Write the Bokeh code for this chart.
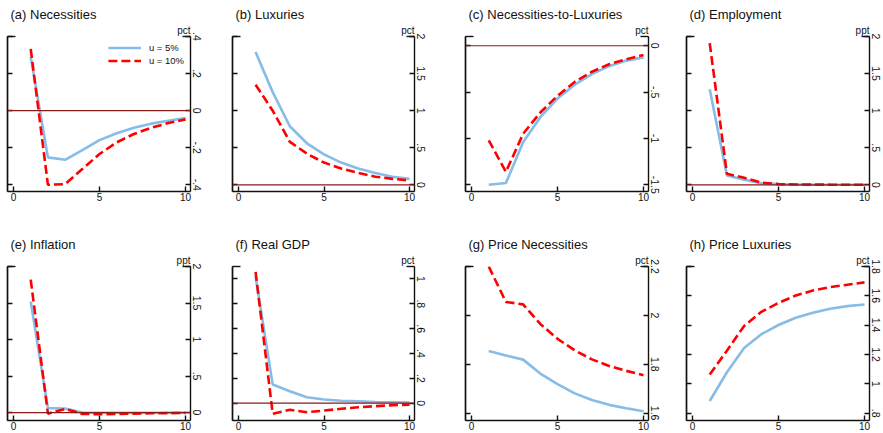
import math
from bokeh.plotting import figure
from bokeh.models import LinearAxis, FixedTicker, Range1d, Span, Legend, LegendItem, Title
from bokeh.layouts import column, row
from bokeh.embed import file_html
from bokeh.resources import INLINE

# ---------------- data ----------------
periods = [1, 2, 3, 4, 5, 6, 7, 8, 9, 10]
series_names = ["u = 5%", "u = 10%"]

titles = ["(a) Necessities", "(b) Luxuries", "(c) Necessities-to-Luxuries", "(d) Employment",
          "(e) Inflation", "(f) Real GDP", "(g) Price Necessities", "(h) Price Luxuries"]
units = ["pct", "pct", "pct", "ppt", "ppt", "pct", "pct", "pct"]

nec_u5 = [0.29, -0.252, -0.265, -0.213, -0.159, -0.122, -0.092, -0.070, -0.054, -0.040]
nec_u10 = [0.333, -0.40, -0.396, -0.315, -0.234, -0.171, -0.126, -0.092, -0.067, -0.047]

lux_u5 = [1.79, 1.25, 0.79, 0.56, 0.41, 0.30, 0.22, 0.16, 0.11, 0.08]
lux_u10 = [1.35, 1.00, 0.58, 0.42, 0.30, 0.22, 0.16, 0.11, 0.08, 0.06]

ntl_u5 = [-1.50, -1.48, -1.04, -0.77, -0.57, -0.42, -0.305, -0.22, -0.16, -0.125]
ntl_u10 = [-1.02, -1.36, -0.95, -0.72, -0.54, -0.39, -0.28, -0.20, -0.145, -0.10]

emp_u5 = [1.29, 0.126, 0.07, 0.02, 0.01, 0.005, 0.003, 0.002, 0.001, 0.001]
emp_u10 = [1.91, 0.148, 0.095, 0.03, 0.01, 0.005, 0.003, 0.002, 0.001, 0.001]

inf_u5 = [1.52, 0.063, 0.054, 0.0, -0.002, -0.003, -0.003, -0.002, -0.002, -0.001]
inf_u10 = [1.82, -0.015, 0.05, -0.02, -0.022, -0.02, -0.015, -0.01, -0.008, -0.005]

gdp_u5 = [1.02, 0.15, 0.096, 0.048, 0.03, 0.02, 0.015, 0.01, 0.008, 0.005]
gdp_u10 = [1.056, -0.085, -0.053, -0.072, -0.059, -0.045, -0.032, -0.024, -0.016, -0.011]

pnec_u5 = [1.854, 1.836, 1.819, 1.762, 1.719, 1.681, 1.654, 1.634, 1.620, 1.608]
pnec_u10 = [2.20, 2.055, 2.045, 1.965, 1.904, 1.857, 1.820, 1.793, 1.773, 1.755]

plux_u5 = [0.883, 1.079, 1.244, 1.338, 1.401, 1.451, 1.485, 1.512, 1.530, 1.541]
plux_u10 = [1.064, 1.226, 1.395, 1.491, 1.552, 1.602, 1.636, 1.660, 1.676, 1.692]

x_ticks = [0, 5, 10]
x_tick_labels = ["0", "5", "10"]

ticks_a = [-0.4, -0.2, 0, 0.2, 0.4]
labels_a = ["-.4", "-.2", "0", ".2", ".4"]
ticks_b = [0, 0.5, 1, 1.5, 2]
labels_b = ["0", ".5", "1", "1.5", "2"]
ticks_c = [-1.5, -1, -0.5, 0]
labels_c = ["-1.5", "-1", "-.5", "0"]
ticks_d = [0, 0.5, 1, 1.5, 2]
labels_d = ["0", ".5", "1", "1.5", "2"]
ticks_e = [0, 0.5, 1, 1.5, 2]
labels_e = ["0", ".5", "1", "1.5", "2"]
ticks_f = [0, 0.2, 0.4, 0.6, 0.8, 1]
labels_f = ["0", ".2", ".4", ".6", ".8", "1"]
ticks_g = [1.6, 1.8, 2, 2.2]
labels_g = ["1.6", "1.8", "2", "2.2"]
ticks_h = [0.8, 1, 1.2, 1.4, 1.6, 1.8]
labels_h = [".8", "1", "1.2", "1.4", "1.6", "1.8"]

series = [(nec_u5, nec_u10), (lux_u5, lux_u10), (ntl_u5, ntl_u10), (emp_u5, emp_u10),
          (inf_u5, inf_u10), (gdp_u5, gdp_u10), (pnec_u5, pnec_u10), (plux_u5, plux_u10)]
ticks = [ticks_a, ticks_b, ticks_c, ticks_d, ticks_e, ticks_f, ticks_g, ticks_h]
tick_labels = [labels_a, labels_b, labels_c, labels_d, labels_e, labels_f, labels_g, labels_h]

# ---------------- layout / style ----------------
y_ranges = [(-0.436, 0.4), (-0.09, 2.0), (-1.572, 0.1), (-0.09, 2.0),
            (-0.109, 2.0), (-0.139, 1.1), (1.57, 2.2), (0.75, 1.8)]
x_range = (-0.35, 10.29)
widths = [226, 233, 221, 203]
left_borders = [7, 6, 6, 6]
frame_widths = [183, 182, 183, 183]
row_heights = [215, 218]
top_borders = [36, 51]
frame_heights = [155, 154]

FONT = "Liberation Sans"
TXT = "#111111"
BLUE = "#86BCE8"
RED = "#FF0000"
MAROON = "#8B1A1A"
AXIS = "#111111"


def style_axis_line(ax):
    ax.axis_line_color = AXIS
    ax.axis_line_width = 1.4
    ax.major_tick_line_color = AXIS
    ax.major_tick_line_width = 1.4
    ax.minor_tick_line_color = AXIS
    ax.minor_tick_line_width = 1.4


def make_panel(k):
    r, c = divmod(k, 4)
    W, H = widths[c], row_heights[r]
    lb, fw = left_borders[c], frame_widths[c]
    tb, fh = top_borders[r], frame_heights[r]
    y0, y1 = y_ranges[k]
    p = figure(width=W, height=H, output_backend="svg", toolbar_location=None,
               x_range=Range1d(*x_range), y_range=Range1d(y0, y1),
               min_border_left=lb, min_border_right=W - lb - fw,
               min_border_top=tb, min_border_bottom=H - tb - fh,
               y_axis_location=None)
    p.outline_line_color = None
    p.xgrid.visible = False
    p.ygrid.visible = False
    p.background_fill_color = "white"
    p.border_fill_color = "white"

    # panel title (outermost) and unit label (next to the frame)
    p.title.text = titles[k]
    p.title.text_font = FONT
    p.title.text_font_size = "13px"
    p.title.text_font_style = "normal"
    p.title.text_color = TXT
    p.title.align = "left"
    p.title.offset = 3
    p.title.standoff = 2
    unit = Title(text=units[k], text_font=FONT, text_font_size="10px",
                 text_font_style="normal", text_color=TXT, align="right",
                 standoff=1)
    p.add_layout(unit, "above")

    cap = [y1]
    labs = {t: s for t, s in zip(ticks[k], tick_labels[k])}

    # left axis: inward ticks only (no labels)
    la = LinearAxis(ticker=FixedTicker(ticks=[], minor_ticks=ticks[k]))
    la.major_tick_in = 0
    la.major_tick_out = 0
    la.minor_tick_in = 5
    la.minor_tick_out = 0
    la.major_label_standoff = 0
    style_axis_line(la)
    p.add_layout(la, "left")
    la_cap = LinearAxis(ticker=FixedTicker(ticks=[], minor_ticks=cap))
    la_cap.major_tick_in = 0
    la_cap.major_tick_out = 0
    la_cap.minor_tick_in = 8
    la_cap.minor_tick_out = 0
    la_cap.major_label_standoff = 0
    style_axis_line(la_cap)
    p.add_layout(la_cap, "left")

    ra = LinearAxis(ticker=FixedTicker(ticks=ticks[k], minor_ticks=cap))
    ra.major_label_overrides = labs
    ra.major_label_orientation = "vertical"
    ra.major_label_text_font = FONT
    ra.major_label_text_font_size = "10.5px"
    ra.major_label_text_color = TXT
    ra.major_label_standoff = 2
    ra.major_tick_in = 5
    ra.major_tick_out = 0
    ra.minor_tick_in = 8
    ra.minor_tick_out = 0
    style_axis_line(ra)
    p.add_layout(ra, "right")

    xa = p.xaxis[0]
    xa.ticker = FixedTicker(ticks=x_ticks)
    xa.major_label_overrides = {t: s for t, s in zip(x_ticks, x_tick_labels)}
    xa.major_label_text_font = FONT
    xa.major_label_text_font_size = "10px"
    xa.major_label_text_color = TXT
    xa.major_label_standoff = 1
    xa.major_tick_in = 5
    xa.major_tick_out = 0
    style_axis_line(xa)
    xa.minor_tick_line_color = None

    if y0 <= 0 <= y1:
        p.add_layout(Span(location=0, dimension="width", line_color=MAROON, line_width=1.2))

    u5, u10 = series[k]
    g1 = p.line(periods, u5, line_color=BLUE, line_width=2.6)
    g2 = p.line(periods, u10, line_color=RED, line_width=2.6, line_dash="9 4")

    if k == 0:
        leg = Legend(items=[LegendItem(label=series_names[0], renderers=[g1]),
                            LegendItem(label=series_names[1], renderers=[g2])],
                     location="top_right")
        leg.border_line_color = None
        leg.background_fill_alpha = 0
        leg.label_text_font = FONT
        leg.label_text_font_size = "9.5px"
        leg.label_text_color = TXT
        leg.glyph_width = 33
        leg.glyph_height = 11
        leg.label_height = 11
        leg.label_standoff = 8
        leg.spacing = 2
        leg.padding = 2
        leg.margin = 6
        p.add_layout(leg, "center")
    return p


panels = [make_panel(k) for k in range(8)]
layout = column(row(*panels[:4], spacing=0), row(*panels[4:], spacing=0), spacing=0)

open("out.html", "w").write(file_html(layout, INLINE))
